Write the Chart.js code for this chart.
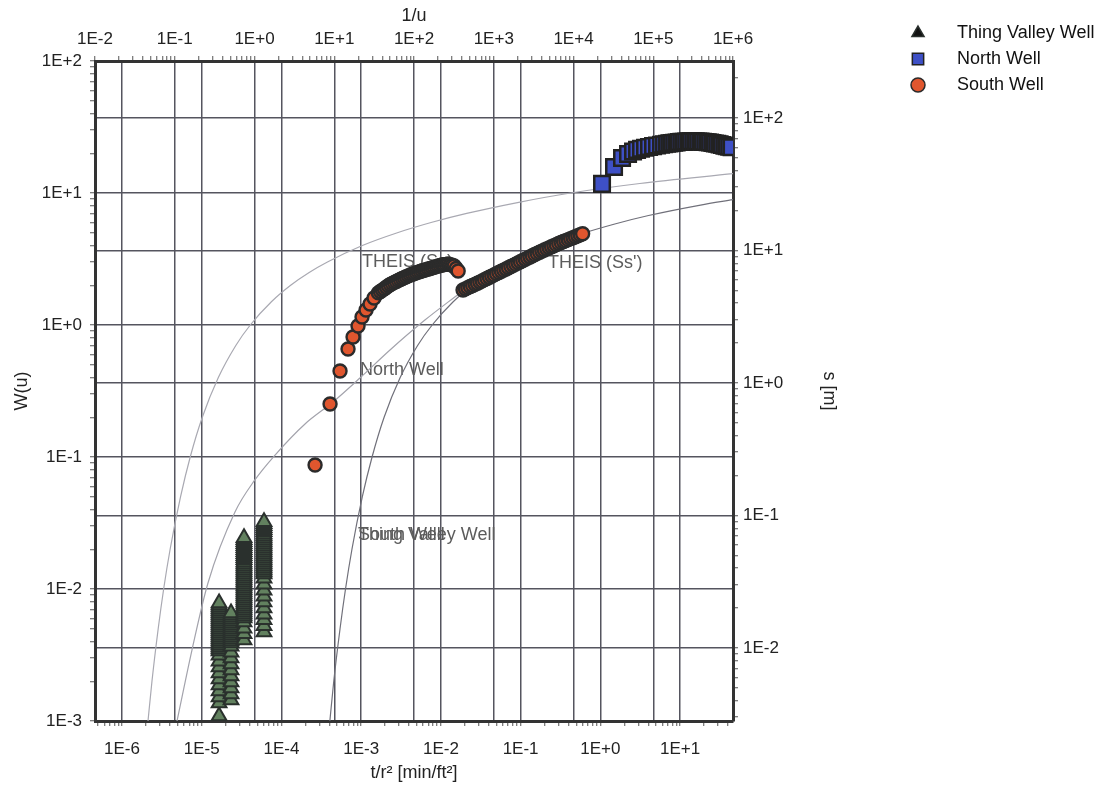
<!DOCTYPE html>
<html>
<head>
<meta charset="utf-8">
<title>Type curve match</title>
<script src="https://cdn.jsdelivr.net/npm/chart.js@4.4.1/dist/chart.umd.min.js"></script>
<style>
  html, body { margin: 0; padding: 0; background: #fff; }
  #wrap { width: 1117px; height: 787px; }
</style>
</head>
<body>
<div id="wrap"><canvas id="matchChart" width="1117" height="787"></canvas></div>
<script>
// ==================== DATA ====================

// Theis type curves, read on the 1/u (top) and W(u) (left) axes
const theisA_invU = [0.0462, 0.0518, 0.0620, 0.0726, 0.0875, 0.1183, 0.1563, 0.2216, 0.352, 0.583, 0.885, 1.629, 2.84, 4.85, 8.22, 22.5, 61.9, 168, 458, 2056, 9204, 67900, 1e6];
const theisA_W    = [0.001, 0.002, 0.005, 0.01, 0.02, 0.05, 0.1, 0.2, 0.4, 0.7, 1.0, 1.5, 2.0, 2.5, 3.0, 4.0, 5.0, 6.0, 7.0, 8.5, 10, 11.8, 14.0];

const theisB_invU = [0.1067, 0.1644, 0.261, 0.569, 1.01, 1.81, 4.30, 9.64, 21.0, 50.0, 137, 378];
const theisB_W    = [0.001, 0.00345, 0.0111, 0.0383, 0.067, 0.1035, 0.178, 0.261, 0.397, 0.647, 1.09, 1.75];

const theisC_invU = [8.81, 9.86, 11.82, 13.84, 16.67, 22.5, 29.8, 42.2, 67.1, 111, 169, 310, 542, 925, 1567, 4295, 11800, 32100, 87300, 391700, 1e6];
const theisC_W    = [0.001, 0.002, 0.005, 0.01, 0.02, 0.05, 0.1, 0.2, 0.4, 0.7, 1.0, 1.5, 2.0, 2.5, 3.0, 3.9, 4.85, 5.8, 6.75, 8.1, 8.9];

// Thing Valley Well: t/r2 of each column, drawdowns s [m] stacked in it
const tvTime = [1.65e-5, 2.33e-5, 3.39e-5, 6.04e-5];
const tvColA = [0.00307, 0.00384, 0.00427, 0.00473, 0.00525, 0.00582, 0.00646, 0.00717, 0.00795, 0.00882,
  0.00949, 0.00983, 0.01018, 0.01054, 0.01091, 0.01130, 0.01170, 0.01211, 0.01254, 0.01298, 0.01344, 0.01392, 0.01441,
  0.01492, 0.01545, 0.01600, 0.01656, 0.01715, 0.01776, 0.01838, 0.01903, 0.01971, 0.02041, 0.02113, 0.02188];
const tvColB = [0.00405, 0.00449, 0.00499, 0.00553, 0.00614, 0.00681, 0.00755, 0.00838, 0.00929, 0.0103,
  0.01091, 0.01129, 0.01169, 0.01211, 0.01254, 0.01298, 0.01344, 0.01391, 0.01441, 0.01492, 0.01545, 0.01599,
  0.01656, 0.01714, 0.01775, 0.01838];
const tvColC = [0.0115, 0.0128, 0.0141, 0.0157,
  0.01684, 0.01744, 0.01806, 0.01870, 0.01936, 0.02005, 0.02076, 0.02149, 0.02225, 0.02304, 0.02386, 0.02470,
  0.02558, 0.02648, 0.02742, 0.02839, 0.02940, 0.03044, 0.03151, 0.03263, 0.03379, 0.03498, 0.03622, 0.03750,
  0.03883, 0.04021, 0.04163, 0.04310, 0.04463, 0.04621, 0.04785, 0.04954, 0.05130, 0.05311, 0.05499, 0.05694,
  0.05896, 0.06104, 0.06321, 0.06544, 0.06776];
const tvColD = [0.0132, 0.0147, 0.0163, 0.0180, 0.0200, 0.0222, 0.0246, 0.0273, 0.0303, 0.0336,
  0.03619, 0.03747, 0.03880, 0.04017, 0.04160, 0.04307, 0.04460, 0.04618, 0.04781, 0.04951, 0.05126, 0.05308,
  0.05496, 0.05690, 0.05892, 0.06100, 0.06317, 0.06540, 0.06772, 0.07012, 0.07260, 0.07517, 0.07784, 0.08059,
  0.08345, 0.08640, 0.08946];

// North Well: t/r2 [min/ft2] and s [m]
const nwTime = [1.051, 1.487, 1.874, 2.229, 2.575, 2.891, 3.245, 3.642, 4.088, 4.589, 5.151, 5.782, 6.306,
  6.877, 7.369, 7.896, 8.460, 9.065, 9.713, 10.41, 11.15, 11.95, 12.80, 13.72, 14.70, 15.75, 16.88,
  18.08, 19.37, 20.76, 22.24, 23.83, 25.54, 27.36, 29.32, 31.41, 33.66, 36.07, 38.64, 41.41, 44.37];
const nwDrawdown = [31.8, 42.7, 49.9, 53.5, 55.9, 57.4, 58.6, 59.6, 60.4, 61.3, 62.0, 62.8, 63.3,
  63.9, 64.3, 64.7, 65.0, 65.3, 65.8, 66.0, 66.2, 66.5, 66.7, 66.7, 66.7, 66.6, 66.5,
  66.5, 66.1, 65.9, 65.6, 65.3, 64.8, 64.2, 63.8, 63.2, 62.4, 61.8, 61.3, 60.7, 60.1];

// South Well: early points, first pumping step, second pumping step
const swTime = [2.64e-4, 4.07e-4, 5.43e-4, 6.84e-4, 7.91e-4, 9.13e-4, 1.025e-3, 1.151e-3, 1.292e-3, 1.451e-3,
  1.644e-3, 1.741e-3, 1.845e-3, 1.954e-3, 2.070e-3, 2.193e-3, 2.323e-3, 2.461e-3, 2.607e-3, 2.761e-3,
  2.925e-3, 3.099e-3, 3.282e-3, 3.477e-3, 3.683e-3, 3.902e-3, 4.133e-3, 4.378e-3, 4.638e-3, 4.913e-3,
  5.205e-3, 5.513e-3, 5.840e-3, 6.187e-3, 6.554e-3, 6.942e-3, 7.354e-3, 7.790e-3, 8.252e-3, 8.742e-3,
  9.260e-3, 9.809e-3, 1.039e-2, 1.101e-2, 1.166e-2, 1.235e-2, 1.308e-2, 1.386e-2, 1.468e-2, 1.555e-2, 1.648e-2,
  0.01897, 0.02033, 0.02178, 0.02334, 0.02501, 0.02680, 0.02871, 0.03077, 0.03297, 0.03532,
  0.03785, 0.04055, 0.04345, 0.04656, 0.04989, 0.05346, 0.05728, 0.06137, 0.06576, 0.07047,
  0.07551, 0.08091, 0.08669, 0.09289, 0.09953, 0.1066, 0.1143, 0.1224, 0.1312, 0.1406,
  0.1507, 0.1614, 0.1730, 0.1854, 0.1986, 0.2128, 0.2280, 0.2443, 0.2618, 0.2805,
  0.3006, 0.3221, 0.3451, 0.3698, 0.3963, 0.4246, 0.4550, 0.4875, 0.5224, 0.5598, 0.5998];
const swDrawdown = [0.2405, 0.694, 1.232, 1.805, 2.224, 2.693, 3.149, 3.555, 3.946, 4.380,
  4.78, 4.90, 5.02, 5.14, 5.28, 5.41, 5.54, 5.64, 5.74, 5.83,
  5.94, 6.04, 6.14, 6.23, 6.33, 6.43, 6.53, 6.61, 6.69, 6.78,
  6.86, 6.94, 7.02, 7.09, 7.16, 7.24, 7.31, 7.39, 7.47, 7.55,
  7.63, 7.70, 7.76, 7.81, 7.85, 7.91, 7.81, 7.73, 7.64, 7.31, 7.00,
  5.03, 5.13, 5.24, 5.34, 5.44, 5.55, 5.66, 5.77, 5.89, 6.02,
  6.14, 6.27, 6.40, 6.54, 6.68, 6.81, 6.96, 7.10, 7.25, 7.41,
  7.56, 7.72, 7.88, 8.05, 8.22, 8.39, 8.57, 8.75, 8.93, 9.12,
  9.31, 9.50, 9.70, 9.89, 10.08, 10.27, 10.46, 10.66, 10.86, 11.06,
  11.27, 11.47, 11.67, 11.86, 12.06, 12.27, 12.47, 12.68, 12.91, 13.14, 13.38];

// Text notes on the plot, anchored in 1/u and W(u)
const noteText = ['THEIS (Ss)', "THEIS (Ss')", 'North Well', 'South Well', 'Thing Valley Well'];
const noteInvU = [22.3, 4790, 21.0, 19.9, 19.9];
const noteW = [3.0, 2.95, 0.456, 0.0257, 0.0257];

const wellNames = ['Thing Valley Well', 'North Well', 'South Well'];

// ==================== HELPERS ====================

const FONT = '"Liberation Sans", Arial, Helvetica, sans-serif';
const GRID = '#55555f';

function pairs(xs, ys) {
  return xs.map((x, i) => ({ x: x, y: ys[i] }));
}

function isDecade(v) {
  const l = Math.log10(v);
  return Math.abs(l - Math.round(l)) < 1e-6;
}

// 1E+2 style labels, nothing on minor ticks
function decadeLabel(v) {
  if (!isDecade(v)) return '';
  const e = Math.round(Math.log10(v));
  return '1E' + (e >= 0 ? '+' : '') + e;
}

// decades plus 2..9 minor marks
function buildLogTicks(scale) {
  const lo = Math.floor(Math.log10(scale.min));
  const hi = Math.ceil(Math.log10(scale.max));
  const ticks = [];
  for (let d = lo; d <= hi; d++) {
    for (let m = 1; m < 10; m++) {
      const v = m * Math.pow(10, d);
      if (v >= scale.min * 0.9999 && v <= scale.max * 1.0001) ticks.push({ value: v });
    }
  }
  scale.ticks = ticks;
}

function logAxis(position, min, max, title, boxSize, tickPad, titlePad) {
  return {
    type: 'logarithmic',
    position: position,
    min: min,
    max: max,
    afterBuildTicks: buildLogTicks,
    afterFit: s => {
      if (s.isHorizontal()) s.height = boxSize; else s.width = boxSize;
    },
    border: { display: true, color: '#333', width: 3 },
    grid: {
      color: c => (c.tick && isDecade(c.tick.value)) ? GRID : 'rgba(0,0,0,0)',
      lineWidth: 1.5,
      tickColor: '#555',
      tickLength: 5,
      tickWidth: 1
    },
    ticks: {
      autoSkip: false,
      maxRotation: 0,
      minRotation: 0,
      padding: tickPad,
      color: '#222',
      font: { family: FONT, size: 17 },
      callback: v => decadeLabel(v)
    },
    title: {
      display: true,
      text: title,
      color: '#222',
      font: { family: FONT, size: 18 },
      padding: titlePad
    }
  };
}

// ==================== PLUGINS ====================

// curve notes sit under the data marks
const notesPlugin = {
  id: 'curveNotes',
  beforeDatasetsDraw(chart) {
    const ctx = chart.ctx;
    const xs = chart.scales.x2, ys = chart.scales.y;
    ctx.save();
    ctx.font = '18px ' + FONT;
    ctx.fillStyle = '#5c5c5c';
    ctx.textAlign = 'left';
    ctx.textBaseline = 'middle';
    noteText.forEach((t, i) => {
      ctx.fillText(t, xs.getPixelForValue(noteInvU[i]), ys.getPixelForValue(noteW[i]));
    });
    ctx.restore();
  }
};

const legendPlugin = {
  id: 'wellLegend',
  afterDraw(chart) {
    const ctx = chart.ctx;
    ctx.save();
    wellNames.forEach((name, i) => {
      const ds = chart.data.datasets[i];
      const y = 33 + i * 26;
      ctx.fillStyle = i === 0 ? '#111' : ds.backgroundColor;
      ctx.strokeStyle = ds.borderColor;
      ctx.lineWidth = 1.5;
      Chart.helpers.drawPoint(ctx, { pointStyle: ds.pointStyle, radius: i === 1 ? 8 : 7, borderWidth: 1.5 }, 918, y);
      ctx.fillStyle = '#111';
      ctx.font = '18px ' + FONT;
      ctx.textAlign = 'left';
      ctx.textBaseline = 'middle';
      ctx.fillText(name, 957, y);
    });
    ctx.restore();
  }
};

// ==================== CHART ====================

const tvPoints = []
  .concat(pairs(tvColA.map(() => tvTime[0]), tvColA))
  .concat(pairs(tvColB.map(() => tvTime[1]), tvColB))
  .concat(pairs(tvColC.map(() => tvTime[2]), tvColC))
  .concat(pairs(tvColD.map(() => tvTime[3]), tvColD));

function curve(xs, ys, color) {
  return {
    label: '',
    data: pairs(xs, ys),
    xAxisID: 'x2',
    yAxisID: 'y',
    showLine: true,
    pointRadius: 0,
    borderColor: color,
    borderWidth: 1.2,
    cubicInterpolationMode: 'monotone',
    clip: 0
  };
}

new Chart(document.getElementById('matchChart'), {
  type: 'scatter',
  data: {
    datasets: [
      {
        label: wellNames[0],
        data: tvPoints,
        xAxisID: 'x',
        yAxisID: 'y2',
        pointStyle: 'triangle',
        pointRadius: 8.5,
        backgroundColor: '#62815f',
        borderColor: '#2a302d',
        borderWidth: 2,
        clip: 0
      },
      {
        label: wellNames[1],
        data: pairs(nwTime, nwDrawdown),
        xAxisID: 'x',
        yAxisID: 'y2',
        pointStyle: 'rect',
        pointRadius: 11,
        backgroundColor: '#3e50c6',
        borderColor: '#222',
        borderWidth: 2.5,
        clip: 0
      },
      {
        label: wellNames[2],
        data: pairs(swTime, swDrawdown),
        xAxisID: 'x',
        yAxisID: 'y2',
        pointStyle: 'circle',
        pointRadius: 6.5,
        backgroundColor: '#e0562e',
        borderColor: '#2b2b2b',
        borderWidth: 2.4,
        clip: 0
      },
      curve(theisA_invU, theisA_W, '#a9a9b2'),
      curve(theisB_invU, theisB_W, '#a3a3ac'),
      curve(theisC_invU, theisC_W, '#70707a')
    ]
  },
  options: {
    responsive: false,
    animation: false,
    events: [],
    layout: { padding: { left: 7, right: 273, top: 0, bottom: 0 } },
    plugins: {
      legend: { display: false },
      tooltip: { enabled: false }
    },
    scales: {
      x: logAxis('bottom', 4.58e-7, 46.2, 't/r\u00b2 [min/ft\u00b2]', 66, 13, { top: 0, bottom: 3 }),
      x2: logAxis('top', 1e-2, 1e6, '1/u', 61, 6, { top: 5, bottom: 0 }),
      y: logAxis('left', 1e-3, 1e2, 'W(u)', 88, 8, { top: 4, bottom: 0 }),
      y2: logAxis('right', 2.81e-3, 269, 's [m]', 111, 5, { top: 4, bottom: 0 })
    }
  },
  plugins: [notesPlugin, legendPlugin]
});
</script>
</body>
</html>
